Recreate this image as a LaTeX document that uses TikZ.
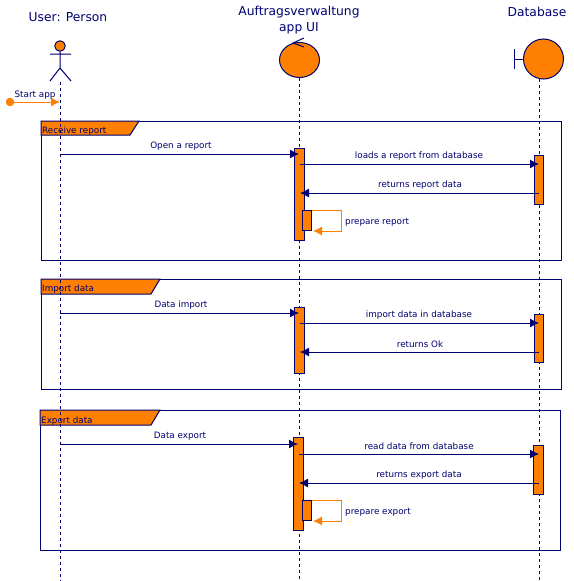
\documentclass[tikz,border=0pt]{standalone}
\usepackage{fontspec}
\setmainfont{DejaVu Sans}
\usetikzlibrary{arrows.meta,shapes.geometric}
\definecolor{navy}{HTML}{000070}
\definecolor{orng}{HTML}{FF8000}
\tikzset{
  ln/.style={draw=navy,line width=1pt},
  life/.style={draw=navy,line width=1pt,dash pattern=on 3pt off 3pt},
  msg/.style={draw=navy,line width=1pt,-{Latex[length=9pt,width=9pt]}},
  omsg/.style={draw=orng,line width=1pt,-{Latex[length=9pt,width=9pt]}},
  bar/.style={draw=navy,fill=orng,line width=1pt,minimum width=9.5pt,inner sep=0pt,anchor=north},
  lbl/.style={text=navy,font=\fontsize{8.8}{10}\selectfont,inner sep=0pt},
  title/.style={text=navy,font=\fontsize{12.3}{16}\selectfont,inner sep=0pt,align=center},
  tab/.style={draw=navy,fill=orng,line width=1pt},
  framebox/.style={draw=navy,line width=1pt}
}
\begin{document}
\begin{tikzpicture}[x=1pt,y=-1pt]
\useasboundingbox (0,0) rectangle (573,581);
% titles
\node[title] (t1) at (68,17.5) {User: Person};
\node[title] (t2) at (299,20) {Auftragsverwaltung\\app UI};
\node[title] (t3) at (537,11.5) {Database};
% frames
\draw[framebox] (41,121) rectangle (561,260);
\draw[framebox] (41,279) rectangle (561,389);
\draw[framebox] (40,410) rectangle (560,550);
\draw[tab] (41,121) -- (139,121) -- (130,135) -- (41,135) -- cycle;
\draw[tab] (41,279) -- (160,279) -- (151,294) -- (41,294) -- cycle;
\draw[tab] (40,410) -- (160,410) -- (151,425) -- (40,425) -- cycle;
\node[lbl,anchor=west] (f1) at (42,131) {Receive report};
\node[lbl,anchor=west] (f2) at (42,289) {Import data};
\node[lbl,anchor=west] (f3) at (41,421) {Export data};
% lifeline ends
\coordinate (u0) at (60,82);
\coordinate (u1) at (60,581);
\coordinate (a1) at (299,581);
\coordinate (d1) at (539,581);
% actor
\node[circle,draw=navy,fill=orng,line width=1pt,minimum size=10.5pt,inner sep=0pt] (head) at (60,46) {};
\coordinate (hip) at (60,68);
\coordinate (armL) at (50,54);
\coordinate (armR) at (71,54);
\coordinate (legL) at (50,81);
\coordinate (legR) at (71,81);
\draw[ln] (head) -- (hip) (armL) -- (armR) (legL) -- (hip) -- (legR);
% control
\node[ellipse,draw=navy,fill=orng,line width=1pt,minimum width=40pt,minimum height=35pt,inner sep=0pt] (ui) at (299.5,60) {};
\coordinate (c0) at (293,43);
\coordinate (c1) at (304,38);
\coordinate (c2) at (304,47);
\draw[ln] (c1) -- (c0) -- (c2);
% boundary
\node[circle,draw=navy,fill=orng,line width=1pt,minimum size=40pt,inner sep=0pt] (db) at (543.5,59) {};
\coordinate (b0) at (514,59);
\coordinate (b1) at (514,49);
\coordinate (b2) at (514,69);
\draw[ln] (b1) -- (b2) (b0) -- (db);
% lifelines
\draw[life] (u0) -- (u1);
\draw[life] (299,78) -- (a1);
\draw[life] (539,79) -- (d1);
% activation bars
\node[bar,minimum height=92pt] (A1) at (299.5,148) {};
\node[bar,minimum height=49pt] (D1) at (539,155) {};
\node[bar,minimum height=20pt] (S1) at (307,210) {};
\node[bar,minimum height=66pt] (A2) at (299.5,307) {};
\node[bar,minimum height=48pt] (D2) at (539,314) {};
\node[bar,minimum height=93pt] (A3) at (298.5,437) {};
\node[bar,minimum height=49pt] (D3) at (538.5,445) {};
\node[bar,minimum height=20pt] (S3) at (307,500) {};
% start
\node[circle,fill=orng,minimum size=8.5pt,inner sep=0pt] (st) at (10,102) {};
\coordinate (st1) at (60,102);
\draw[omsg] (st) -- (st1);
\node[lbl] (ls) at (35,95) {Start app};
% messages group 1
\coordinate (m1a) at (60,154);  \coordinate (m1b) at (299,154);
\coordinate (m2a) at (300,164); \coordinate (m2b) at (539,164);
\coordinate (m3a) at (539,193); \coordinate (m3b) at (300,193);
\draw[msg] (m1a) -- (m1b);
\draw[msg] (m2a) -- (m2b);
\draw[msg] (m3a) -- (m3b);
\node[lbl] at (181,146.5) {Open a report};
\node[lbl] at (419,156.5) {loads a report from database};
\node[lbl] at (420,185.5) {returns report data};
\coordinate (s1a) at (312,210); \coordinate (s1b) at (341,210); \coordinate (s1c) at (341,231); \coordinate (s1d) at (313,231);
\draw[omsg] (s1a) -- (s1b) -- (s1c) -- (s1d);
\node[lbl,anchor=west] at (345,222.5) {prepare report};
% messages group 2
\coordinate (m4a) at (60,313);  \coordinate (m4b) at (299,313);
\coordinate (m5a) at (300,323); \coordinate (m5b) at (539,323);
\coordinate (m6a) at (539,352); \coordinate (m6b) at (300,352);
\draw[msg] (m4a) -- (m4b);
\draw[msg] (m5a) -- (m5b);
\draw[msg] (m6a) -- (m6b);
\node[lbl] at (181,305.5) {Data import};
\node[lbl] at (419,315.5) {import data in database};
\node[lbl] at (420,344.5) {returns Ok};
% messages group 3
\coordinate (m7a) at (60,444);  \coordinate (m7b) at (298,444);
\coordinate (m8a) at (299,454); \coordinate (m8b) at (539,454);
\coordinate (m9a) at (539,483); \coordinate (m9b) at (299,483);
\draw[msg] (m7a) -- (m7b);
\draw[msg] (m8a) -- (m8b);
\draw[msg] (m9a) -- (m9b);
\node[lbl] at (180,436.5) {Data export};
\node[lbl] at (419,446.5) {read data from database};
\node[lbl] at (419,475.5) {returns export data};
\coordinate (s3a) at (312,500); \coordinate (s3b) at (341,500); \coordinate (s3c) at (341,521); \coordinate (s3d) at (313,521);
\draw[omsg] (s3a) -- (s3b) -- (s3c) -- (s3d);
\node[lbl,anchor=west] at (345,512.5) {prepare export};
\end{tikzpicture}
\end{document}
